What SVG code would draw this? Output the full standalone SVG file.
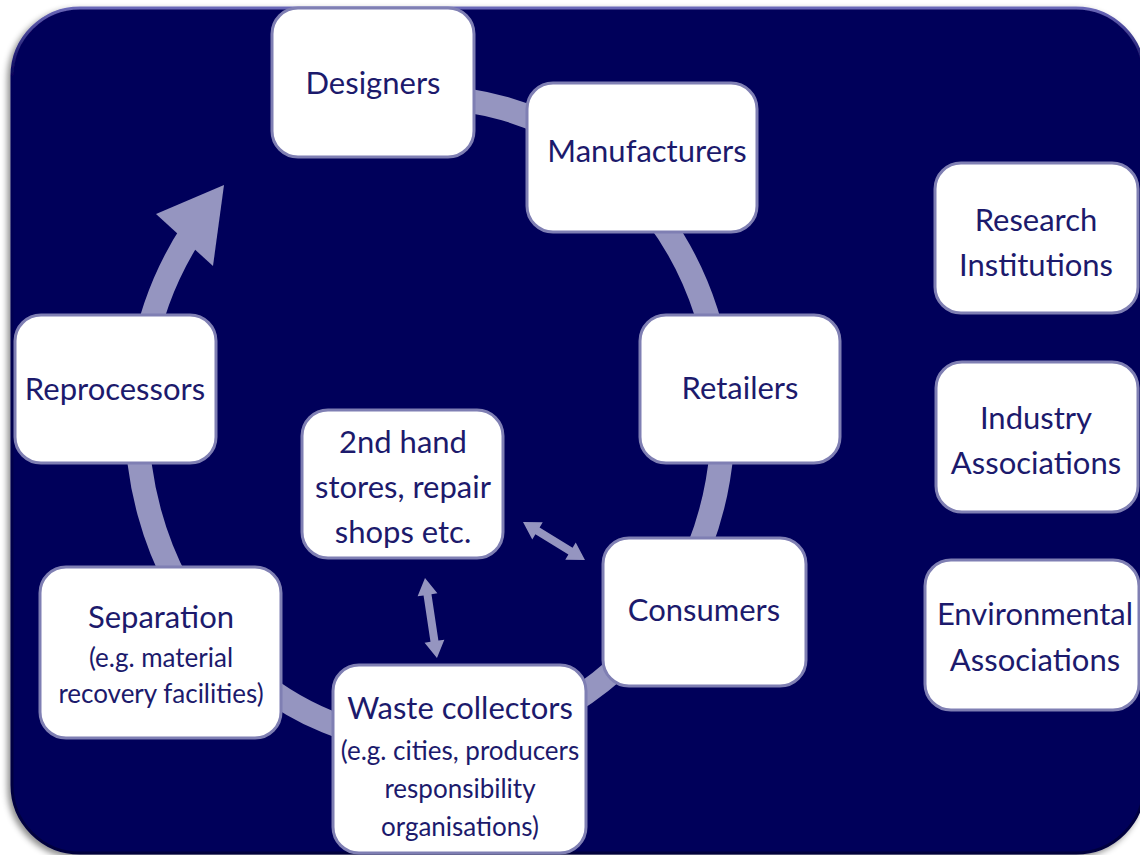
<svg xmlns="http://www.w3.org/2000/svg" width="1140" height="855" viewBox="0 0 1140 855">
<defs>
  <filter id="shadow" x="-5%" y="-5%" width="110%" height="110%">
    <feDropShadow dx="-3" dy="3" stdDeviation="3" flood-color="#000" flood-opacity="0.45"/>
  </filter>
  <linearGradient id="bevel" x1="0" y1="0" x2="0" y2="1">
    <stop offset="0" stop-color="#6a68b8"/>
    <stop offset="0.08" stop-color="#06035a"/>
    <stop offset="1" stop-color="#03023e"/>
  </linearGradient>
  <style>
    .box { fill: #ffffff; stroke: #7f7fb3; stroke-width: 3; }
    .t { font-family: Lato, "Open Sans", sans-serif; font-size: 31px; fill: #1c1a6c; text-anchor: middle; }
    .s { font-family: Lato, "Open Sans", sans-serif; font-size: 26px; fill: #1c1a6c; text-anchor: middle; }
    .ring { fill: none; stroke: #9595c0; stroke-width: 24; }
    .arr { fill: #9595c0; }
  </style>
</defs>

<rect id="background" x="12" y="8" width="1132" height="845" rx="68" ry="68" fill="#06035a" stroke="url(#bevel)" stroke-width="3" filter="url(#shadow)"/>

<g id="connectors">
  <path class="ring" d="M 379.1 102.9 A 293 322 0 1 1 193.0 230.7"/>
  <polygon class="arr" points="224,185 213,266 156,214"/>
  <polygon class="arr" transform="translate(523,522) rotate(31.5)" points="0,0 17,-10 17,-4 55.7,-4 55.7,-10 72.7,0 55.7,10 55.7,4 17,4 17,10"/>
  <polygon class="arr" transform="translate(425,578) rotate(81.5)" points="0,0 17,-10 17,-4 63.9,-4 63.9,-10 80.9,0 63.9,10 63.9,4 17,4 17,10"/>
</g>

<g id="designers">
  <rect class="box" x="272" y="8" width="202" height="149" rx="26"/>
  <text class="t" x="373" y="94">Designers</text>
</g>
<g id="manufacturers">
  <rect class="box" x="527" y="83" width="230" height="149" rx="26"/>
  <text class="t" x="647" y="162">Manufacturers</text>
</g>
<g id="research-institutions">
  <rect class="box" x="935" y="163" width="203" height="150" rx="26"/>
  <text class="t" x="1036" y="231">Research</text>
  <text class="t" x="1036" y="276">Institutions</text>
</g>
<g id="reprocessors">
  <rect class="box" x="15" y="315" width="201" height="148" rx="26"/>
  <text class="t" x="115" y="400">Reprocessors</text>
</g>
<g id="retailers">
  <rect class="box" x="640" y="315" width="200" height="148" rx="26"/>
  <text class="t" x="740" y="399">Retailers</text>
</g>
<g id="second-hand">
  <rect class="box" x="302" y="410" width="201" height="148" rx="26"/>
  <text class="t" x="403" y="453">2nd hand</text>
  <text class="t" x="403" y="498">stores, repair</text>
  <text class="t" x="403" y="543">shops etc.</text>
</g>
<g id="industry-associations">
  <rect class="box" x="936" y="362" width="202" height="150" rx="26"/>
  <text class="t" x="1036" y="429">Industry</text>
  <text class="t" x="1036" y="474">Associations</text>
</g>
<g id="consumers">
  <rect class="box" x="603" y="538" width="203" height="148" rx="26"/>
  <text class="t" x="704" y="621">Consumers</text>
</g>
<g id="environmental-associations">
  <rect class="box" x="925" y="560" width="214" height="150" rx="26"/>
  <text class="t" x="1035" y="625">Environmental</text>
  <text class="t" x="1035" y="671">Associations</text>
</g>
<g id="separation">
  <rect class="box" x="40" y="567" width="241" height="171" rx="26"/>
  <text class="t" x="161" y="628">Separation</text>
  <text class="s" x="161" y="667">(e.g. material</text>
  <text class="s" x="161" y="703">recovery facilities)</text>
</g>
<g id="waste-collectors">
  <rect class="box" x="333" y="665" width="253" height="188" rx="26"/>
  <text class="t" x="460" y="719">Waste collectors</text>
  <text class="s" x="460" y="760">(e.g. cities, producers</text>
  <text class="s" x="460" y="798">responsibility</text>
  <text class="s" x="460" y="836">organisations)</text>
</g>
</svg>
